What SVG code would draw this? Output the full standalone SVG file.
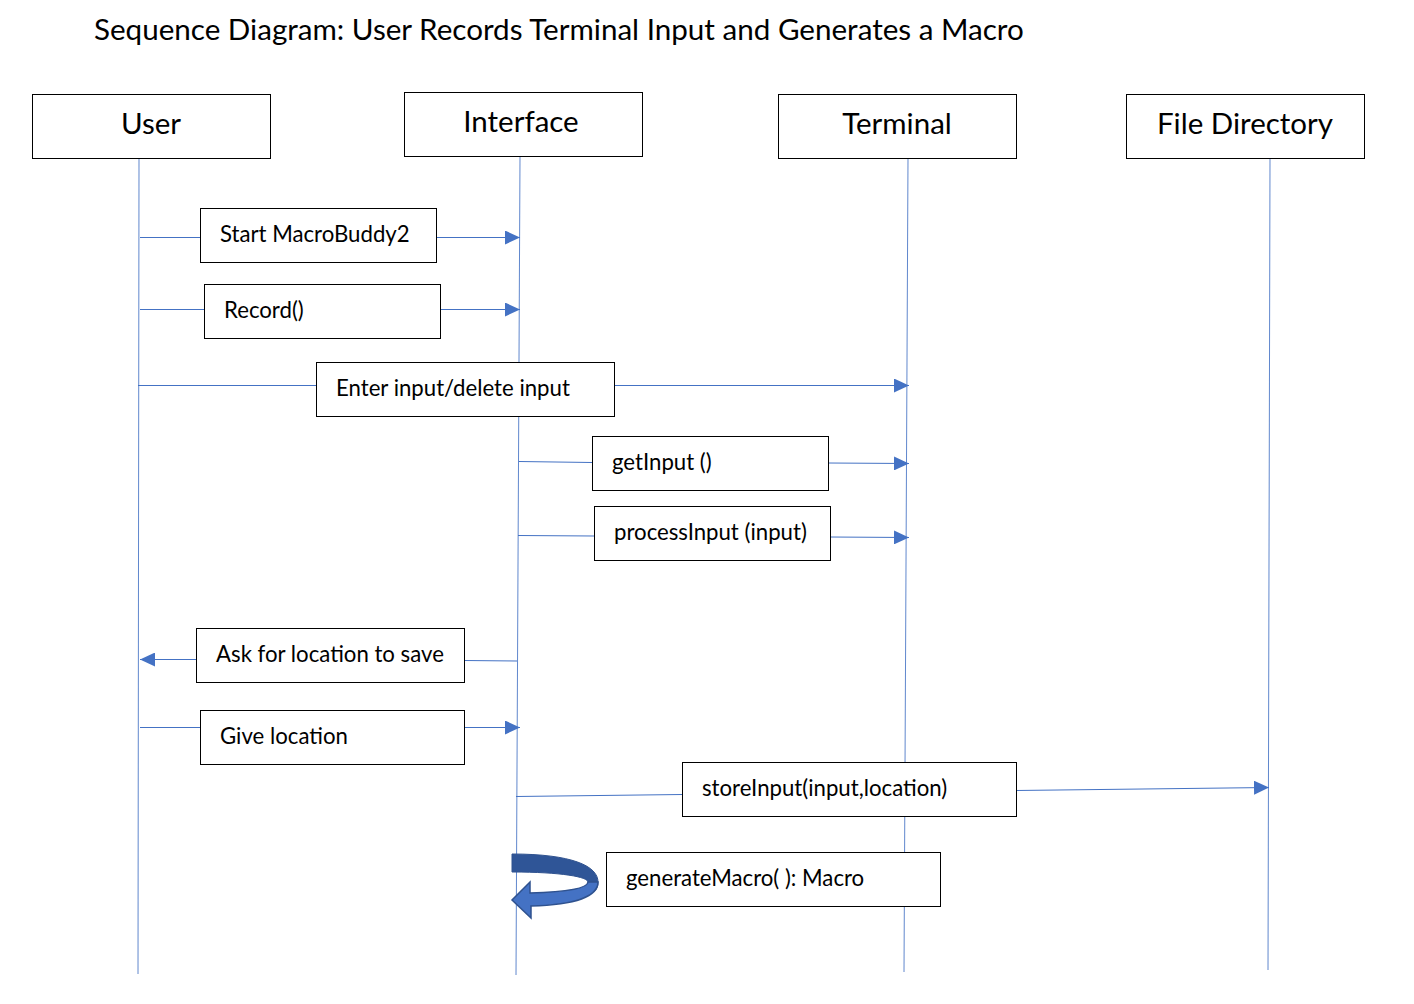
<svg xmlns="http://www.w3.org/2000/svg" width="1414" height="1004" viewBox="0 0 1414 1004">
<style>
text{font-family:Lato,"Liberation Sans",sans-serif;fill:#000}
.title{font-size:29.6px}
.hd{font-size:29.5px;text-anchor:middle}
.lb{font-size:22.2px}
.box{fill:#fff;stroke:#000;stroke-width:1}
.ll{stroke:#4472C4;stroke-width:1;fill:none;opacity:0.85}
.msg{stroke:#4472C4;stroke-width:1;fill:none}
</style>
<defs>
<marker id="ah" viewBox="0 0 15 14" refX="15" refY="7" markerWidth="15" markerHeight="14" markerUnits="userSpaceOnUse" orient="auto">
<path d="M0,0 L15,7 L0,14 Z" fill="#4472C4"/>
</marker>
</defs>
<rect width="1414" height="1004" fill="#fff"/>
<text class="title" x="94" y="40">Sequence Diagram: User Records Terminal Input and Generates a Macro</text>

<g id="lifelines">
<line class="ll" x1="139" y1="158" x2="138" y2="974"/>
<line class="ll" x1="520" y1="156" x2="516" y2="975"/>
<line class="ll" x1="908" y1="158" x2="904" y2="972"/>
<line class="ll" x1="1270" y1="158" x2="1268" y2="970"/>
</g>

<g id="user"><rect class="box" x="32.5" y="94.5" width="238" height="64"/><text class="hd" x="151" y="134">User</text></g>
<g id="interface"><rect class="box" x="404.5" y="92.5" width="238" height="64"/><text class="hd" x="521" y="132">Interface</text></g>
<g id="terminal"><rect class="box" x="778.5" y="94.5" width="238" height="64"/><text class="hd" x="897" y="134">Terminal</text></g>
<g id="filedir"><rect class="box" x="1126.5" y="94.5" width="238" height="64"/><text class="hd" x="1245" y="134">File Directory</text></g>

<g id="connectors">
<line class="msg" x1="140" y1="237.5" x2="200" y2="237.5"/>
<line class="msg" x1="436" y1="237.5" x2="520" y2="237.5" marker-end="url(#ah)"/>
<line class="msg" x1="140" y1="309.5" x2="204" y2="309.5"/>
<line class="msg" x1="440" y1="309.5" x2="520" y2="309.5" marker-end="url(#ah)"/>
<line class="msg" x1="138" y1="385.5" x2="316" y2="385.5"/>
<line class="msg" x1="614" y1="385.5" x2="909" y2="385.5" marker-end="url(#ah)"/>
<line class="msg" x1="519" y1="461.5" x2="592" y2="462.5"/>
<line class="msg" x1="828" y1="463" x2="909" y2="463.5" marker-end="url(#ah)"/>
<line class="msg" x1="518" y1="535.5" x2="594" y2="536"/>
<line class="msg" x1="830" y1="537" x2="909" y2="537.5" marker-end="url(#ah)"/>
<line class="msg" x1="517" y1="661" x2="464" y2="660.5"/>
<line class="msg" x1="196" y1="659.5" x2="140" y2="659.5" marker-end="url(#ah)"/>
<line class="msg" x1="140" y1="727.5" x2="200" y2="727.5"/>
<line class="msg" x1="464" y1="727.5" x2="520" y2="727.5" marker-end="url(#ah)"/>
<line class="msg" x1="516" y1="796.5" x2="682" y2="794.5"/>
<line class="msg" x1="1016" y1="790.5" x2="1269" y2="787.5" marker-end="url(#ah)"/>
</g>

<g id="m1"><rect class="box" x="200.5" y="208.5" width="236" height="54"/><text class="lb" x="220" y="242">Start MacroBuddy2</text></g>
<g id="m2"><rect class="box" x="204.5" y="284.5" width="236" height="54"/><text class="lb" x="224" y="318">Record()</text></g>
<g id="m3"><rect class="box" x="316.5" y="362.5" width="298" height="54"/><text class="lb" x="336" y="396">Enter input/delete input</text></g>
<g id="m4"><rect class="box" x="592.5" y="436.5" width="236" height="54"/><text class="lb" x="612" y="470">getInput ()</text></g>
<g id="m5"><rect class="box" x="594.5" y="506.5" width="236" height="54"/><text class="lb" x="614" y="540">processInput (input)</text></g>
<g id="m6"><rect class="box" x="196.5" y="628.5" width="268" height="54"/><text class="lb" x="216" y="662">Ask for location to save</text></g>
<g id="m7"><rect class="box" x="200.5" y="710.5" width="264" height="54"/><text class="lb" x="220" y="744">Give location</text></g>
<g id="m8"><rect class="box" x="682.5" y="762.5" width="334" height="54"/><text class="lb" x="702" y="796">storeInput(input,location)</text></g>

<g id="selfcall">
<path d="M512,854 C572,854 598,866 598,882 C598,892 590,897 588,882 C588,877 562,872 512,872 Z" fill="#2F5597" stroke="#2F528F" stroke-width="1"/>
<path d="M598,882 C598,898 570,905 531,906 L531,918 L512,900 L530,882 L530,893 C562,892 588,889 588,882 Z" fill="#4472C4" stroke="#2F528F" stroke-width="1.5"/>
</g>
<g id="m9"><rect class="box" x="606.5" y="852.5" width="334" height="54"/><text class="lb" x="626" y="886">generateMacro( ): Macro</text></g>
</svg>
